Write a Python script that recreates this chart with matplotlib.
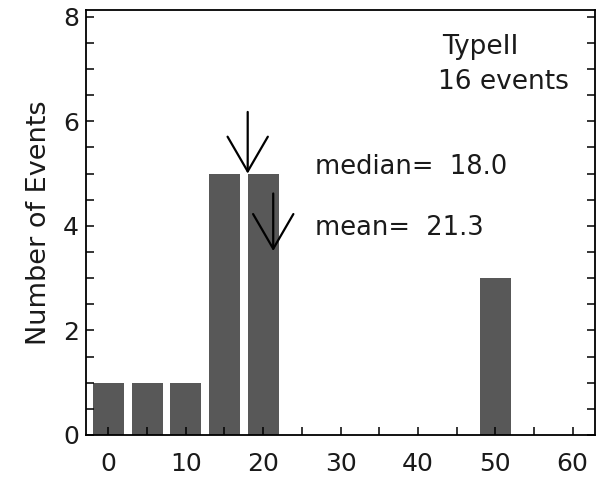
import matplotlib
matplotlib.use("Agg")
import matplotlib.pyplot as plt
from matplotlib.ticker import MultipleLocator

# histogram of event counts (bin centres, 5-unit bins)
bin_centers = [0, 5, 10, 15, 20, 50]
counts = [1, 1, 1, 5, 5, 3]
n_events = 16
median_val = 18.0
mean_val = 21.3

plt.rcParams['font.family'] = 'DejaVu Sans'

fig = plt.figure(figsize=(5.97, 4.8), dpi=100)
ax = fig.add_axes([0.1441, 0.09375, 0.8526, 0.8854])

ax.bar(bin_centers, counts, width=4, color='#585858', edgecolor='none')

# arrows marking median and mean
arrow = dict(arrowstyle='->, head_length=2.5, head_width=1.45', mutation_scale=10,
             lw=1.6, color='black', shrinkA=0, shrinkB=0)
ax.annotate('', xy=(median_val, 5.0), xytext=(median_val, 6.18), arrowprops=arrow)
ax.annotate('', xy=(mean_val, 3.52), xytext=(mean_val, 4.62), arrowprops=arrow)

txt = dict(va='baseline', color='#1a1a1a')
ax.text(26.7, 5.0, f'median=  {median_val:.1f}', fontsize=18.5, **txt)
ax.text(26.7, 3.82, f'mean=  {mean_val:.1f}', fontsize=18.5, **txt)
ax.text(43.1, 7.29, 'TypeII', fontsize=19, **txt)
ax.text(42.6, 6.62, f'{n_events} events', fontsize=19, **txt)

ax.set_xlim(-2.9, 62.9)
ax.set_ylim(0, 8.13)

ax.xaxis.set_major_locator(MultipleLocator(10))
ax.xaxis.set_minor_locator(MultipleLocator(5))
ax.yaxis.set_major_locator(MultipleLocator(2))
ax.yaxis.set_minor_locator(MultipleLocator(0.5))

ax.tick_params(axis='x', which='both', direction='in', length=6, width=1.1,
               top=False, labelsize=18, pad=12, labelcolor='#1a1a1a')
ax.tick_params(axis='y', which='both', direction='in', length=6, width=1.1,
               right=True, labelsize=18, pad=5, labelcolor='#1a1a1a')

for s in ax.spines.values():
    s.set_linewidth(1.3)

ax.set_ylabel('Number of Events', fontsize=19.5, labelpad=8, color='#1a1a1a')

fig.savefig('out.png', dpi=100)
